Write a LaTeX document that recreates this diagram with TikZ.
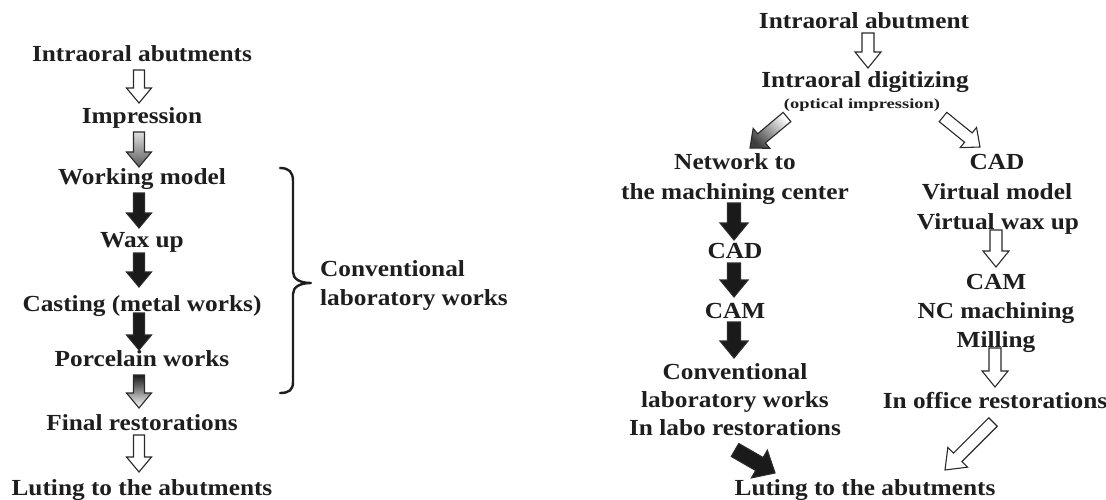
\documentclass[tikz,border=0pt]{standalone}
\usepackage{fontspec}
\setmainfont{Liberation Serif}[FakeStretch=1.1]
\newfontfamily\notefont{Liberation Serif}[FakeStretch=1.32]
\usetikzlibrary{calc}

\definecolor{ink}{HTML}{1E1E1E}
\definecolor{edge}{HTML}{2A2A2A}
\definecolor{darkfill}{HTML}{1A1A1A}
\definecolor{midgray}{HTML}{5A5A5A}

% block arrow from #2 to #3: half shaft width #4, half head width #5, head length #6
\newcommand\barrow[6][]{%
  \path[#1] ($(#2)!#4!90:(#3)$)
    -- ($(#3)!#6!(#2)!#4!-90:(#2)$)
    -- ($(#3)!#6!(#2)!#5!-90:(#2)$)
    -- (#3)
    -- ($(#3)!#6!(#2)!#5!90:(#2)$)
    -- ($(#3)!#6!(#2)!#4!90:(#2)$)
    -- ($(#2)!#4!-90:(#3)$) -- cycle;}

% vertical block arrow between two stacked labels
% #2 upper node, #3 lower node, #4 gap below upper base, #5 gap above lower base, #6 x offset
\newcommand\varrow[6][]{%
  \coordinate (vs) at ($(#2.base)+(#6,#4)$);
  \coordinate (ve) at ($(#2.base |- #3.base)+(#6,-#5)$);
  \barrow[#1]{vs}{ve}{\sw}{\hw}{\hl}}

\begin{document}
\begin{tikzpicture}[x=1pt,y=-1pt,
  lbl/.style={anchor=base, inner sep=0pt, text=ink,
    font=\fontsize{23}{27}\selectfont\bfseries},
  note/.style={anchor=base, inner sep=0pt, text=ink,
    font=\notefont\fontsize{14}{16}\selectfont\bfseries},
  hollow/.style={draw=edge, line width=1.1pt, fill=white, line join=miter},
  solid/.style={draw=edge, line width=1.1pt, fill=darkfill, line join=miter},
  fadein/.style={draw=edge, line width=1.1pt, top color=gray!25, bottom color=midgray, line join=miter},
  fadeout/.style={draw=edge, line width=1.1pt, top color=darkfill, bottom color=white, line join=miter},
  brace/.style={draw=ink, line width=2.4pt, line cap=round, line join=round}]

\useasboundingbox[fill=white] (0,0) rectangle (1106,500);

% ---------- conventional workflow ----------
\node[lbl] (a1) at (142,62)  {Intraoral abutments};
\node[lbl] (a2) at (142,124) {Impression};
\node[lbl] (a3) at (142,185) {Working model};
\node[lbl] (a4) at (142,247) {Wax up};
\node[lbl] (a5) at (142,311) {Casting (metal works)};
\node[lbl] (a6) at (142,366) {Porcelain works};
\node[lbl] (a7) at (142,430) {Final restorations};
\node[lbl] (a8) at (142,495) {Luting to the abutments};

\def\sw{5.5pt}\def\hw{12.5pt}\def\hl{15pt}
\varrow[hollow]{a1}{a2}{8}{21}{-3}
\varrow[fadein]{a2}{a3}{8}{18}{-3}
\varrow[solid]{a3}{a4}{8}{19}{-3}
\varrow[solid]{a4}{a5}{6}{24}{-3}
\varrow[solid]{a5}{a6}{2}{16}{-3}
\varrow[fadeout]{a6}{a7}{9}{22}{-3}
\varrow[hollow]{a7}{a8}{5}{23}{-3}

% brace over the laboratory steps
\draw[brace] (280,168) .. controls (289,168) and (293,172) .. (293,181)
  -- (293,272) .. controls (293,279) and (300,283) .. (311,283)
  .. controls (300,283) and (293,287) .. (293,294)
  -- (293,382) .. controls (293,390) and (289,393) .. (280,393);
\node[lbl, anchor=base west] (lab1) at (320,276) {Conventional};
\node[lbl, anchor=base west] (lab2) at (320,305) {laboratory works};

% ---------- digital workflow ----------
\node[lbl] (b1) at (864,29) {Intraoral abutment};
\node[lbl] (b2) at (865,88) {Intraoral digitizing};
\node[note] (b3) at (862,109) {(optical impression)};

\node[lbl] (l1) at (735,170) {Network to};
\node[lbl] (l2) at (735,200) {the machining center};
\node[lbl] (l3) at (735,258) {CAD};
\node[lbl] (l4) at (735,318) {CAM};
\node[lbl] (l5) at (735,379) {Conventional};
\node[lbl] (l6) at (735,407) {laboratory works};
\node[lbl] (l7) at (735,435) {In labo restorations};

\node[lbl] (r1) at (997,169) {CAD};
\node[lbl] (r2) at (997,200) {Virtual model};
\node[lbl] (r3) at (998,229) {Virtual wax up};
\node[lbl] (r4) at (996,289) {CAM};
\node[lbl] (r5) at (996,318) {NC machining};
\node[lbl] (r6) at (996,347) {Milling};
\node[lbl] (r7) at (995,408) {In office restorations};

\node[lbl] (lut) at (865,495) {Luting to the abutments};

\def\sw{6pt}\def\hw{13pt}\def\hl{16pt}
\varrow[hollow]{b1}{b2}{4}{20}{4}
\varrow[hollow]{r3}{r4}{1}{22}{-2}
\varrow[hollow]{r6}{r7}{1}{21}{-1}

\def\sw{6.5pt}\def\hw{14pt}\def\hl{17pt}
\varrow[solid]{l2}{l3}{3}{18}{-1}
\varrow[solid]{l3}{l4}{5}{21}{-1}
\varrow[solid]{l4}{l5}{4}{21}{-1}

% branching and merging arrows
\coordinate (s1) at (787,117);  \coordinate (e1) at (750,148);
\coordinate (s2) at (943,117);  \coordinate (e2) at (980,147);
\coordinate (s3) at (735,450);  \coordinate (e3) at (775,473);
\coordinate (s4) at (993,422);  \coordinate (e4) at (945,470);
\barrow[draw=edge, line width=1.1pt, top color=white, bottom color=midgray!70!black, shading angle=-45]{s1}{e1}{6pt}{13pt}{15pt}
\barrow[hollow]{s2}{e2}{6pt}{13pt}{15pt}
\barrow[solid]{s3}{e3}{7.5pt}{16pt}{18pt}
\barrow[hollow]{s4}{e4}{6pt}{14pt}{18pt}

\end{tikzpicture}
\end{document}
